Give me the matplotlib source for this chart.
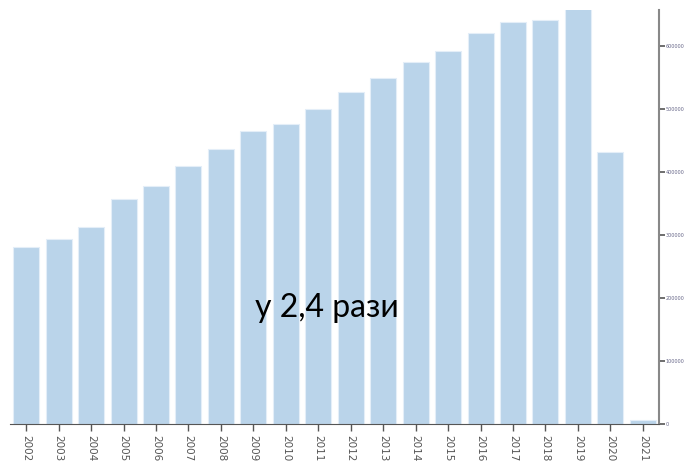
import numpy as np
import matplotlib.pyplot as plt

# дані
years = [str(y) for y in range(2002, 2022)]
values = [281000, 294000, 313000, 357000, 378000, 410000, 437000, 465000, 476000, 500000,
          527000, 549000, 575000, 592000, 621000, 638000, 641000, 665000, 432000, 6000]
y_ticks = [0, 100000, 200000, 300000, 400000, 500000, 600000]
annotation = "у 2,4 рази"

W, H = 685, 465
fig = plt.figure(figsize=(W / 100, H / 100), dpi=100)
ax = fig.add_axes([10 / W, 41 / H, 649 / W, 414 / H])

x = np.arange(len(years))
ax.bar(x, values, width=0.8, color='#bad4ea', edgecolor='#e4eef8', linewidth=0.8)
ax.set_xlim(-0.5, len(years) - 0.5)
ax.set_ylim(0, 657000)

for s in ['top', 'left']:
    ax.spines[s].set_visible(False)
ax.spines['bottom'].set_color('#555555')
ax.spines['right'].set_color('#888888')
ax.spines['right'].set_linewidth(1.5)

ax.yaxis.tick_right()
ax.set_yticks(y_ticks)
ax.set_yticklabels([str(v) for v in y_ticks], fontsize=3.5, color='#666688')
ax.tick_params(axis='y', length=4, width=1.2, color='#555555', pad=0.5)

ax.set_xticks(x)
ax.set_xticklabels(years, rotation=270, fontsize=7.5, color='#555555')
ax.tick_params(axis='x', length=5, width=1, color='#555555', pad=3)

ax.text(0.489, 0.28, annotation, transform=ax.transAxes, fontsize=23,
        family=['Lato', 'DejaVu Sans'], ha='center', va='center', color='black')

fig.savefig('out.png', dpi=100)
